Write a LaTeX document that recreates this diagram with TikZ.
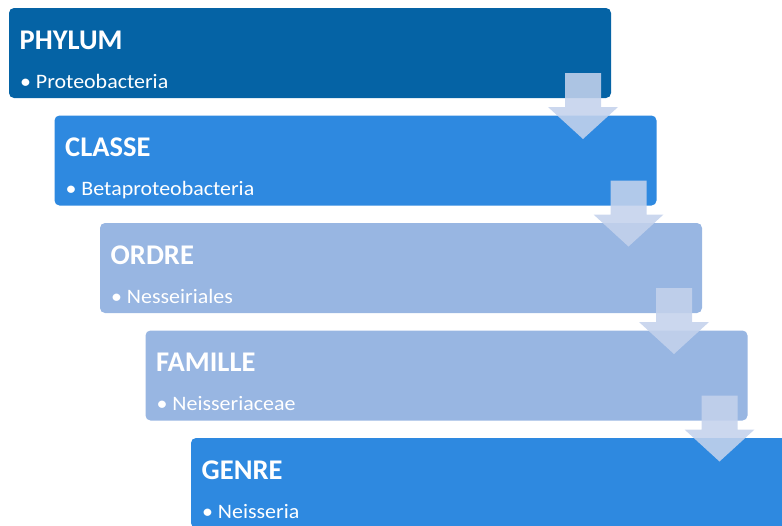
\documentclass[tikz,border=0pt]{standalone}
\usepackage{fontspec}
\setmainfont{Carlito}
\usetikzlibrary{calc}
\definecolor{cdark}{RGB}{5,99,165}
\definecolor{cmid}{RGB}{46,137,224}
\definecolor{clight}{RGB}{152,182,226}
\definecolor{carrow}{RGB}{196,210,236}
\tikzset{
  box/.style={rectangle, rounded corners=5pt, inner sep=0pt, outer sep=0pt,
    minimum width=602pt, minimum height=90pt, anchor=north west},
  ttl/.style={anchor=base west, inner sep=0pt, text=white,
    font=\fontsize{28.5}{30}\selectfont\bfseries},
  itm/.style={anchor=base west, inner sep=0pt, text=white,
    font=\fontsize{20.5}{22}\selectfont},
  blockarrow/.style={fill=carrow, fill opacity=0.88, draw=none}
}
\newcommand{\downarrowshape}[1]{%
  \fill[blockarrow] ($(#1.south east)+(-46,-25)$) -- ++(36,0) -- ++(0,34) -- ++(17,0)
    -- ++(-35,32) -- ++(-35,-32) -- ++(17,0) -- cycle;}
\begin{document}
\begin{tikzpicture}[x=1pt,y=-1pt]
\useasboundingbox (0,0) rectangle (782,525);
\node[box, fill=cdark]  (b1) at (9,8) {};
\node[box, fill=cmid]   (b2) at (54.5,115.5) {};
\node[box, fill=clight] (b3) at (100,223) {};
\node[box, fill=clight] (b4) at (145.5,330.5) {};
\node[box, fill=cmid]   (b5) at (191,438) {};
\foreach \b/\t/\i in {b1/PHYLUM/Proteobacteria, b2/CLASSE/Betaproteobacteria,
  b3/ORDRE/Nesseiriales, b4/FAMILLE/Neisseriaceae, b5/GENRE/Neisseria}{
  \node[ttl] (\b t) at ($(\b.north west)+(10.5,41)$) {\t};
  \node[itm] (\b i) at ($(\b.north west)+(11,80)$) {\scalebox{1.07}[1]{•\hspace{4.5pt}\i}};
}
\downarrowshape{b1}
\downarrowshape{b2}
\downarrowshape{b3}
\downarrowshape{b4}
\end{tikzpicture}
\end{document}
